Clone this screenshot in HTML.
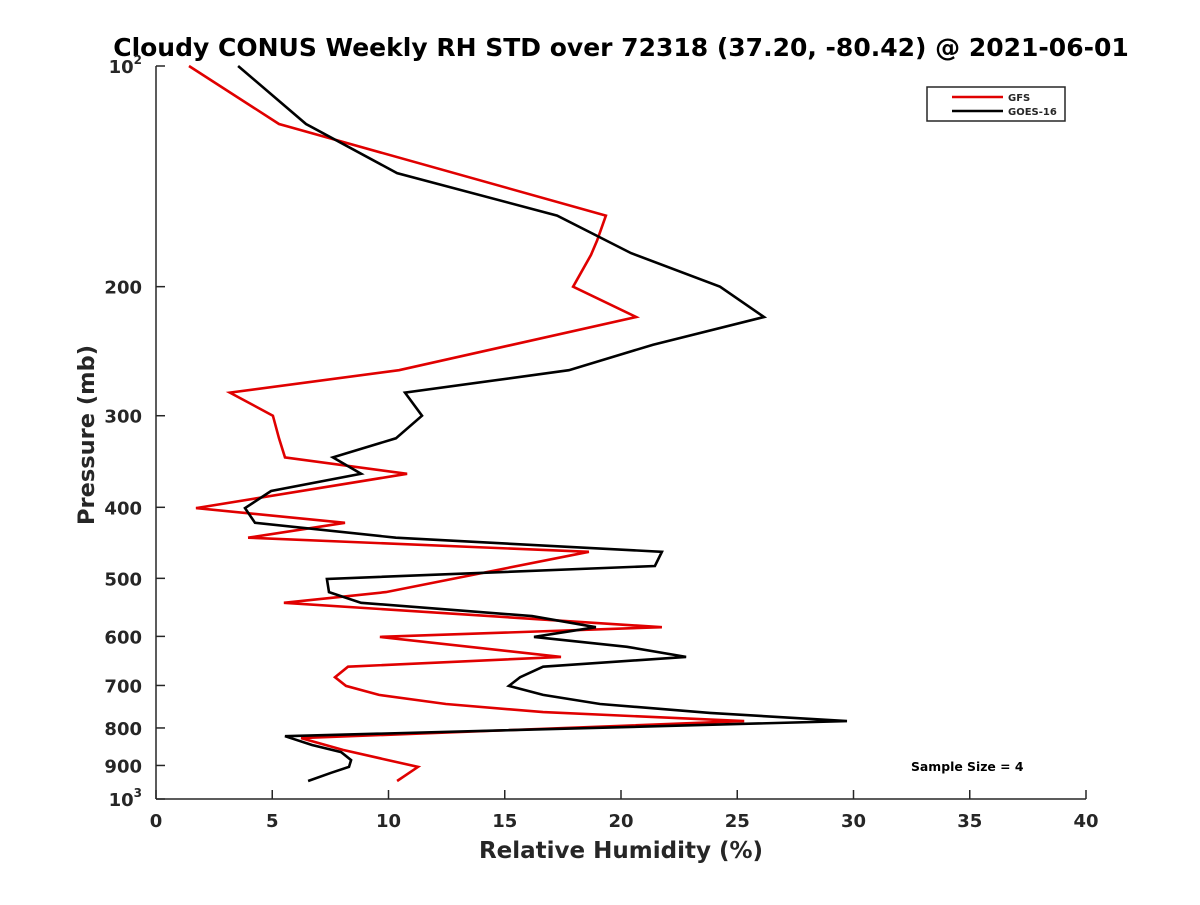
<!DOCTYPE html>
<html><head><meta charset="utf-8">
<style>
html,body{margin:0;padding:0;background:#fff;}
svg text{font-family:"DejaVu Sans","Liberation Sans",sans-serif;font-weight:bold;fill:#262626;}
</style></head>
<body>
<svg id="chart" width="1200" height="900" viewBox="0 0 1200 900" xmlns="http://www.w3.org/2000/svg">
<rect width="1200" height="900" fill="#fff"/>
<text x="621" y="56" text-anchor="middle" font-size="25" style="fill:#000">Cloudy CONUS Weekly RH STD over 72318 (37.20, -80.42) @ 2021-06-01</text>
<g id="axes"></g>
<g id="series"></g>
<g>
<rect x="927" y="87" width="138" height="34" fill="#fff" stroke="#262626" stroke-width="1.5"/>
<line x1="952" y1="97" x2="1003" y2="97" stroke="#e00000" stroke-width="2.5"/>
<text x="1008" y="101" font-size="10">GFS</text>
<line x1="952" y1="111" x2="1003" y2="111" stroke="#000" stroke-width="2.5"/>
<text x="1008" y="115" font-size="10">GOES-16</text>
</g>
<text x="911" y="771" font-size="12.4" style="fill:#000">Sample Size = 4</text>
<text x="621" y="858" text-anchor="middle" font-size="23">Relative Humidity (%)</text>
<text x="0" y="0" text-anchor="middle" font-size="22.5" transform="translate(94,435) rotate(-90)">Pressure (mb)</text>
</svg>
<script>
const xTicks = [0,5,10,15,20,25,30,35,40];
const yTicks = [100,200,300,400,500,600,700,800,900,1000];
const yTickLabels = ["10²","200","300","400","500","600","700","800","900","10³"];
const gfsRH = [1.42,5.29,19.35,18.97,18.71,17.94,20.65,10.45,3.18,5.03,5.29,5.55,10.8,1.72,8.13,3.96,18.62,9.89,5.5,21.76,9.63,17.42,8.26,7.7,8.17,9.59,12.47,16.65,25.3,6.24,8.04,11.27,10.37];
const gfsP = [100,120,160,173,181,200,220,260,279,300,322,342,360,401,420,440,460,522,540,583,601,640,660,682,701,721,742,761,783,826,857,904,945];
const goesRH = [3.53,6.45,10.37,17.25,20.43,24.26,26.15,21.38,17.76,10.71,11.44,10.32,7.61,8.82,4.95,3.83,4.26,10.32,21.76,21.46,7.35,7.44,8.82,16.17,18.92,16.26,20.26,22.8,16.65,15.66,15.18,16.65,19.1,23.83,29.72,5.55,6.71,7.96,8.39,8.3,7.53,6.54];
const goesP = [100,120,140,160,180,200,220,240,260,279,300,322,342,360,380,401,420,440,460,481,501,522,540,563,583,601,620,640,660,682,701,721,742,763,783,821,844,863,885,904,921,945];

const X0=156, X1=1086, Y0=66, Y1=799;
function xs(v){return X0+(v-0)/(40-0)*(X1-X0);}
function ys(p){return Y0+(Math.log10(p)-2)*(Y1-Y0);}
const NS="http://www.w3.org/2000/svg";
const axes=document.getElementById('axes');
function mk(tag,attrs,parent){const e=document.createElementNS(NS,tag);for(const k in attrs)e.setAttribute(k,attrs[k]);parent.appendChild(e);return e;}

const xa=mk('line',{x1:X0,y1:Y1,x2:X1,y2:Y1,stroke:'#262626','stroke-width':1.5},axes);


const ya=mk('line',{x1:X0,y1:Y0,x2:X0,y2:Y1,stroke:'#262626','stroke-width':1.5},axes);



xTicks.forEach(v=>{
  const x=xs(v);
  mk('line',{x1:x,y1:Y1,x2:x,y2:Y1-9,stroke:'#262626','stroke-width':1.5},axes);
  const t=mk('text',{x:x,y:Y1+28,'text-anchor':'middle','font-size':18},axes);
  t.textContent=v;
  
  
});
yTicks.forEach((p,i)=>{
  const y=ys(p);
  mk('line',{x1:X0,y1:y,x2:X0+9,y2:y,stroke:'#262626','stroke-width':1.5},axes);
  const lab=yTickLabels[i];
  const t=mk('text',{x:X0-14,y:y+7,'text-anchor':'end','font-size':18},axes);
  
  
  if(lab.indexOf('²')>=0||lab.indexOf('³')>=0){
    t.textContent='10';
    const s=mk('tspan',{dy:-9,'font-size':12},t);
    s.textContent=lab.indexOf('²')>=0?'2':'3';
  } else t.textContent=lab;
});

const ser=document.getElementById('series');
function line(rh,p,color,name){
  const d=rh.map((v,i)=>(i?'L':'M')+xs(v).toFixed(1)+','+ys(p[i]).toFixed(1)).join(' ');
  const e=mk('path',{d:d,fill:'none',stroke:color,'stroke-width':2.6,'stroke-linejoin':'miter'},ser);
  
  
}
line(gfsRH,gfsP,'#e00000','gfs-line');
line(goesRH,goesP,'#000000','goes16-line');
</script>
</body></html>
